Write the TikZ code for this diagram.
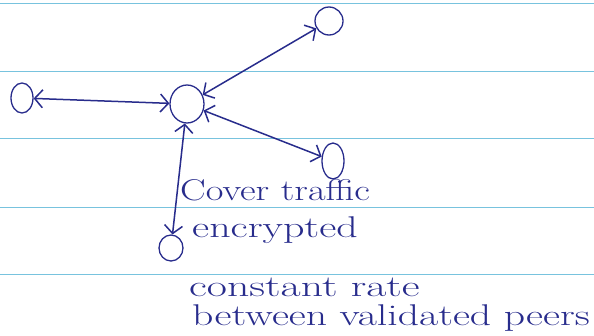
\documentclass[tikz,border=0pt]{standalone}
\usepackage{graphicx}
\usepackage{tikz}
\usetikzlibrary{arrows.meta, shapes.geometric}
\definecolor{ink}{RGB}{40,44,140}
\definecolor{ruling}{RGB}{120,195,222}
% hand lettering is wide, so stretch the text sideways
\newcommand{\scribble}[2]{\scalebox{#1}[1]{#2}}
\tikzset{
	peer/.style={draw=ink, line width=1.3pt, ellipse, inner sep=0pt},
	link/.style={draw=ink, line width=1.5pt, {Straight Barb[length=8pt,width=18pt]}-{Straight Barb[length=8pt,width=18pt]}},
	note/.style={text=ink, anchor=west, inner sep=0pt, font=\fontsize{30}{32}\selectfont}
}

\begin{document}
\begin{tikzpicture}[x=1pt, y=-1pt]
	\useasboundingbox (0,0) rectangle (594,335);
	% ruled paper
	\foreach \y in {3,71,138,207,274}
		\draw[ruling, line width=0.8pt] (0,\y) -- (594,\y);
	% peers
	\node[peer, minimum width=34pt, minimum height=38pt] (hub) at (187,104) {};
	\node[peer, minimum width=22pt, minimum height=30pt] (west) at (22,98) {};
	\node[peer, minimum width=28pt, minimum height=28pt] (north) at (329,21) {};
	\node[peer, minimum width=22pt, minimum height=36pt] (east) at (333,161) {};
	\node[peer, minimum width=24pt, minimum height=26pt] (south) at (171,248) {};
	% links
	\draw[link] (west) -- (hub);
	\draw[link] (hub) -- (north);
	\draw[link] (hub) -- (east);
	\draw[link] (hub) -- (south);
	% notes
	\node[note] (cover) at (180,190) {\scribble{1.28}{Cover traffic}};
	\node[note] (enc) at (192,230) {\scribble{1.4}{encrypted}};
	\node[note] (rate) at (189,287) {\scribble{1.46}{constant rate}};
	\node[note] (valid) at (192,318) {\scribble{1.39}{between validated peers}};
\end{tikzpicture}
\end{document}
